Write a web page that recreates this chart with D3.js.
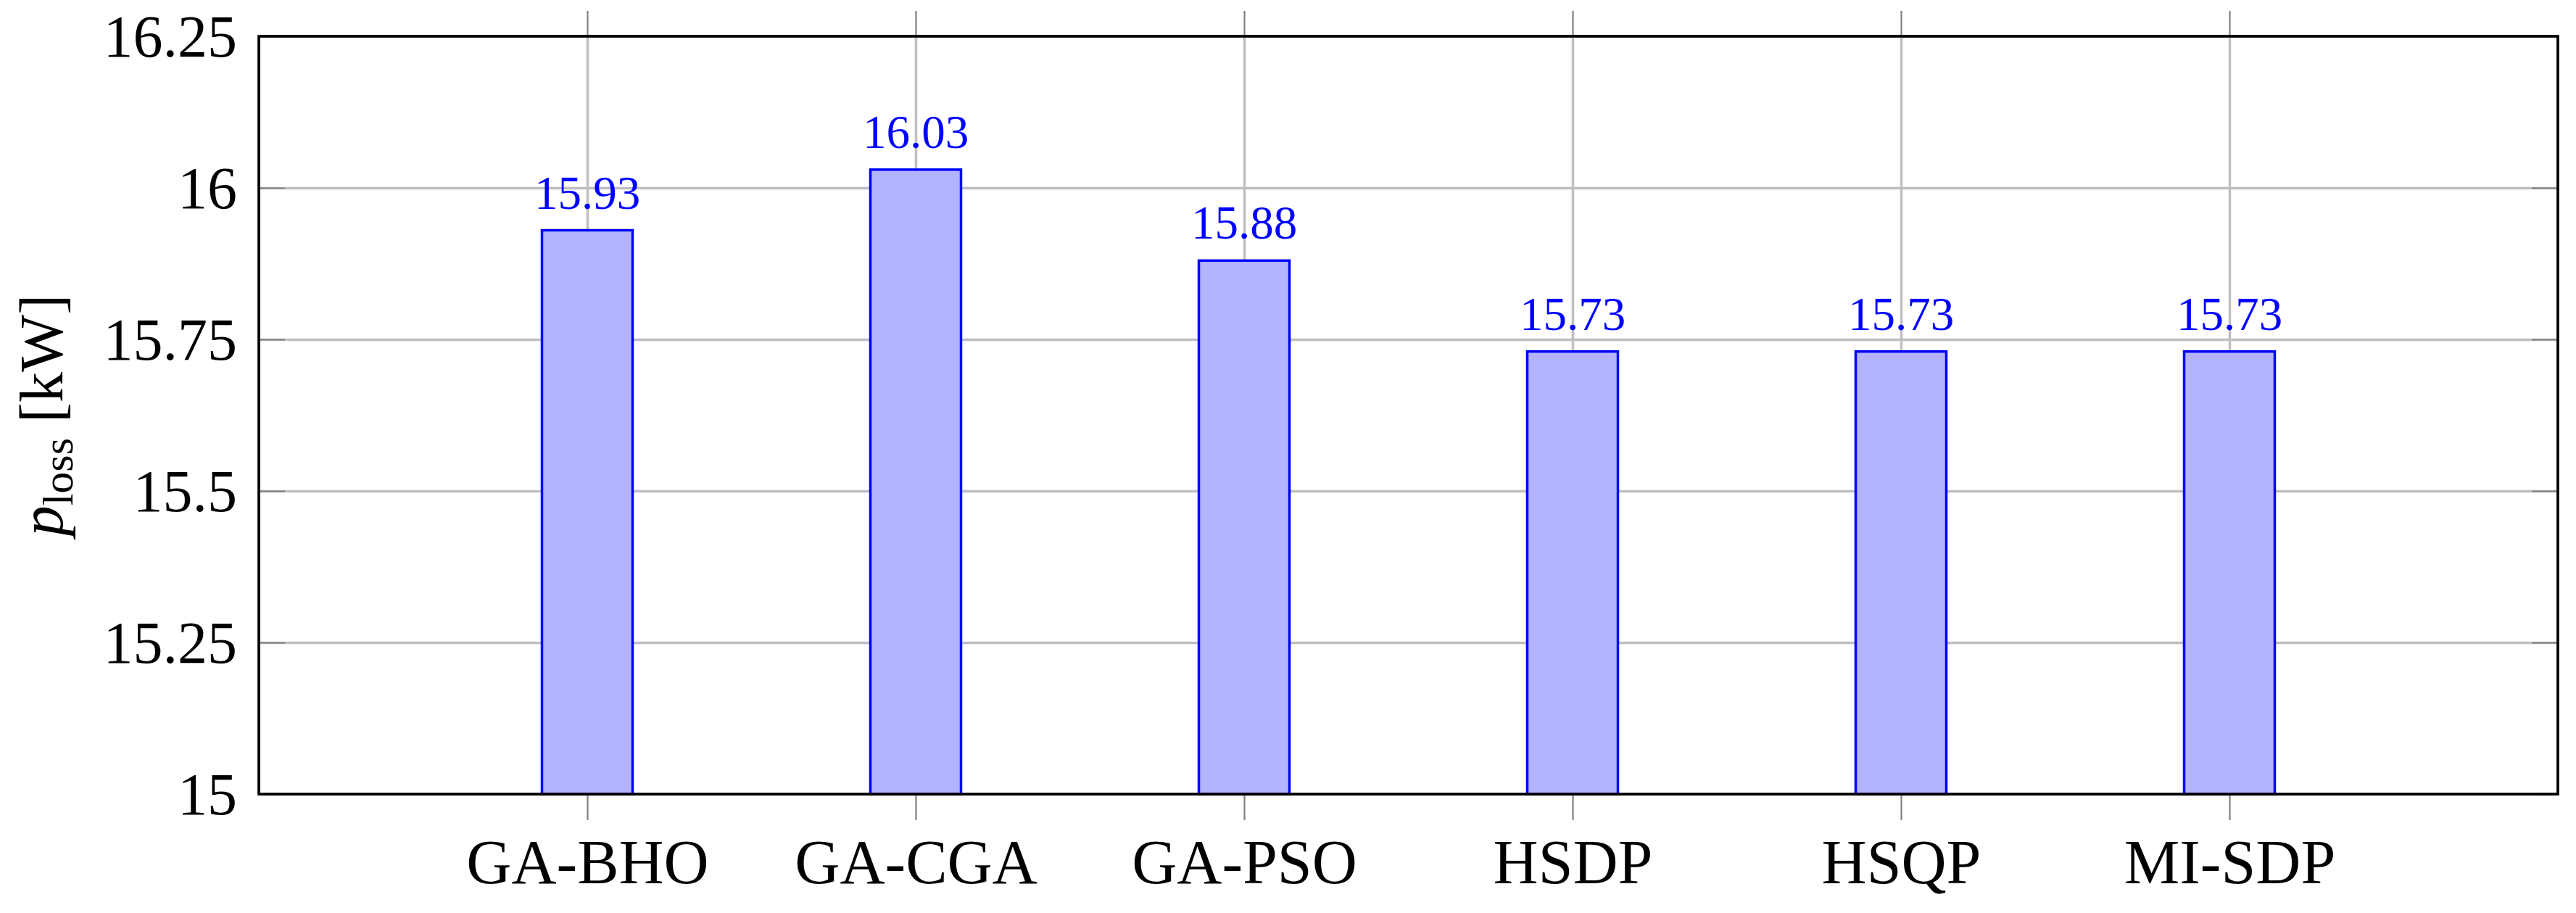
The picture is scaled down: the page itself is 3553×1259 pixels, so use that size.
<!DOCTYPE html>
<html>
<head>
<meta charset="utf-8">
<script src="https://cdn.jsdelivr.net/npm/d3@7"></script>
<style>
  body { margin: 0; background: #fff; }
  svg { display: block; }
</style>
</head>
<body>
<div id="chart"></div>
<script>
var categories = ["GA-BHO", "GA-CGA", "GA-PSO", "HSDP", "HSQP", "MI-SDP"];
var losses = [15.93, 16.03, 15.88, 15.73, 15.73, 15.73];
var valueLabels = ["15.93", "16.03", "15.88", "15.73", "15.73", "15.73"];
var yTicks = [15, 15.25, 15.5, 15.75, 16, 16.25];
var yTickLabels = ["15", "15.25", "15.5", "15.75", "16", "16.25"];

var width = 3553, height = 1259;
var margin = {top: 50, right: 25, bottom: 164, left: 357};
var plotW = width - margin.left - margin.right,
    plotH = height - margin.top - margin.bottom;
var font = "'Liberation Serif', 'DejaVu Serif', serif";

var svg = d3.select("#chart")
  .append("svg")
    .attr("width", width)
    .attr("height", height);

var g = svg.append("g")
    .attr("transform", "translate(" + margin.left + "," + margin.top + ")");

var x = d3.scalePoint()
    .domain(categories)
    .range([0, plotW])
    .padding(1);

var y = d3.scaleLinear()
    .domain([15, 16.25])
    .range([plotH, 0]);

var barW = 125;

// grid
g.append("g")
    .attr("class", "grid")
    .call(d3.axisLeft(y).tickValues(yTicks).tickSize(-plotW).tickFormat(""));
g.append("g")
    .attr("class", "grid")
    .attr("transform", "translate(0," + plotH + ")")
    .call(d3.axisBottom(x).tickSize(plotH).tickSizeOuter(0).tickFormat(""))
    .selectAll("line").attr("y2", -plotH);
g.selectAll(".grid .domain").remove();
g.selectAll(".grid line")
    .style("stroke", "#bfbfbf")
    .style("stroke-width", 3.5);

// tick marks
var yl = g.append("g")
    .call(d3.axisLeft(y).tickValues(yTicks).tickSizeInner(-36).tickSizeOuter(0)
      .tickPadding(30).tickFormat(function(d, i) { return yTickLabels[i]; }));
var yr = g.append("g")
    .attr("transform", "translate(" + plotW + ",0)")
    .call(d3.axisRight(y).tickValues(yTicks).tickSizeInner(-36).tickSizeOuter(0).tickFormat(""));
var xb = g.append("g")
    .attr("transform", "translate(0," + plotH + ")")
    .call(d3.axisBottom(x).tickSize(36).tickSizeOuter(0));
var xt = g.append("g")
    .call(d3.axisTop(x).tickSize(35).tickSizeOuter(0).tickFormat(""));

[yl, yr, xb, xt].forEach(function(a) {
  a.select(".domain").remove();
  a.selectAll("line").style("stroke", "#808080").style("stroke-width", 2.2);
});

yl.selectAll("text")
    .attr("dy", "0.34em")
    .style("font-family", font)
    .style("font-size", "82px")
    .style("fill", "#000");

xb.selectAll("text")
    .attr("y", 1218 - margin.top - plotH)
    .attr("dy", 0)
    .style("font-family", font)
    .style("font-size", "86px")
    .style("fill", "#000");

// bars
g.selectAll(".bar")
    .data(losses)
  .enter().append("rect")
    .attr("class", "bar")
    .attr("x", function(d, i) { return x(categories[i]) - barW / 2; })
    .attr("y", function(d) { return y(d); })
    .attr("width", barW)
    .attr("height", function(d) { return plotH - y(d); })
    .style("fill", "#b3b3ff")
    .style("stroke", "#0000ff")
    .style("stroke-width", 3.5);

g.selectAll(".val")
    .data(losses)
  .enter().append("text")
    .attr("class", "val")
    .attr("x", function(d, i) { return x(categories[i]); })
    .attr("y", function(d) { return y(d) - 30; })
    .attr("text-anchor", "middle")
    .style("font-family", font)
    .style("font-size", "65px")
    .style("fill", "#0000ff")
    .text(function(d, i) { return valueLabels[i]; });

// frame
g.append("rect")
    .attr("width", plotW)
    .attr("height", plotH)
    .style("fill", "none")
    .style("stroke", "#000")
    .style("stroke-width", 3.7);

// y label
var lab = svg.append("text")
    .attr("transform", "translate(86," + (margin.top + plotH / 2) + ") rotate(-90)")
    .attr("text-anchor", "middle")
    .style("font-family", font)
    .style("font-size", "84px");
lab.append("tspan").style("font-style", "italic").text("p");
lab.append("tspan").attr("dy", 14).style("font-size", "60px").text("loss");
lab.append("tspan").attr("dy", -14).text(" [kW]");
</script>
</body>
</html>
